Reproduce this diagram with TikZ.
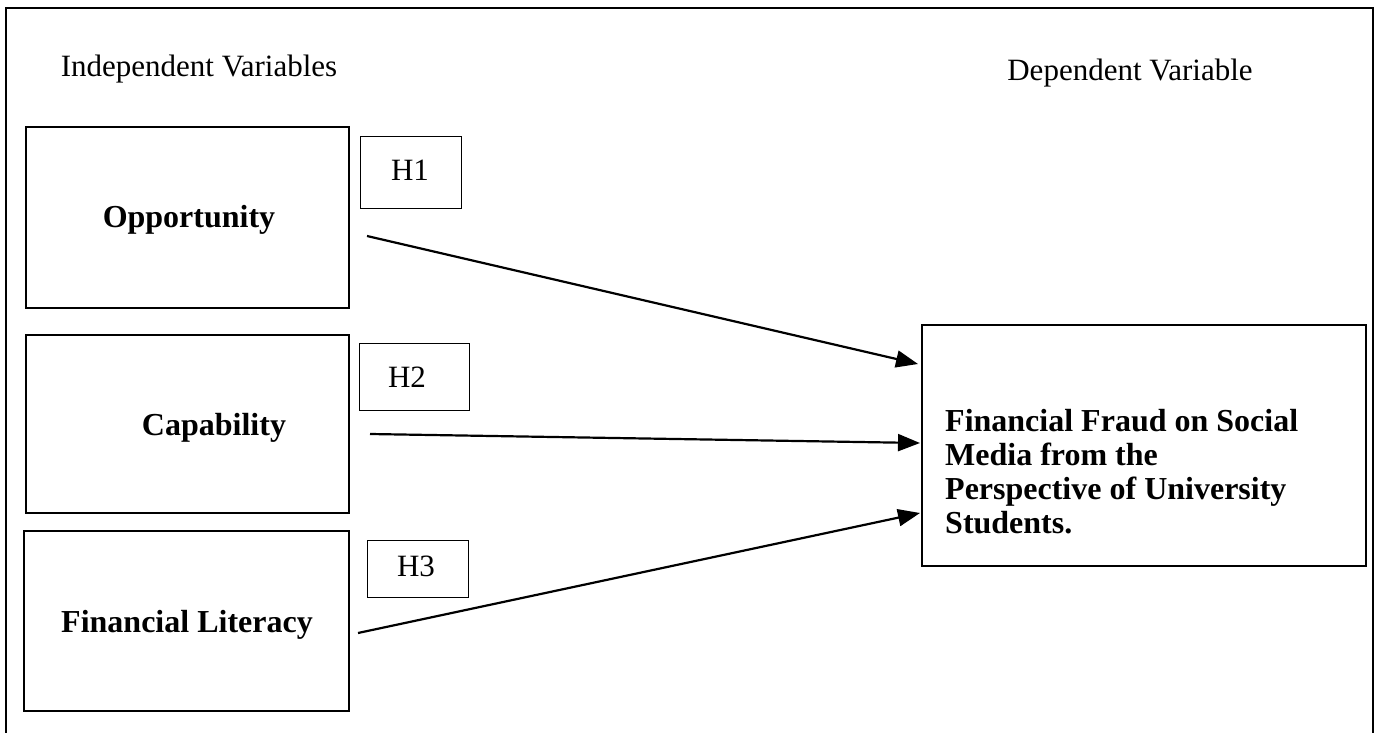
\documentclass[tikz,border=0pt]{standalone}
\usepackage{fontspec}
\setmainfont{Liberation Serif}
\usetikzlibrary{arrows.meta}
\begin{document}
\begin{tikzpicture}[x=1pt,y=-1pt]
	\useasboundingbox (0,0) rectangle (1381,733);
	
	\tikzstyle{varbox}=[rectangle,
	draw=black,
	line width=1.2pt,
	inner sep=0pt
	]
	\tikzstyle{hbox}=[rectangle,
	draw=black,
	line width=1pt,
	inner sep=0pt
	]
	\tikzstyle{vartext}=[font=\fontsize{32}{34}\selectfont\bfseries, inner sep=0pt]
	\tikzstyle{plaintext}=[font=\fontsize{31}{34}\selectfont, inner sep=0pt]
	\tikzstyle{myarrow}=[-{Triangle[length=22pt,width=17pt]}, line width=2.2pt]
	
	% outer frame
	\coordinate (f1) at (6,733);
	\coordinate (f2) at (6,8);
	\coordinate (f3) at (1373,8);
	\coordinate (f4) at (1373,733);
	\draw[line width=1.5pt] (f1) -- (f2) -- (f3) -- (f4);
	
	% headings
	\node[plaintext] (ivhead) at (199,69) {Independent Variables};
	\node[plaintext] (dvhead) at (1130,73) {Dependent Variable};
	
	% boxes
	\node[varbox, minimum width=323pt, minimum height=181pt] (opp) at (187.5,217.5) {};
	\node[varbox, minimum width=323pt, minimum height=178pt] (cap) at (187.5,424) {};
	\node[varbox, minimum width=325pt, minimum height=180pt] (lit) at (186.5,621) {};
	\node[varbox, minimum width=444pt, minimum height=241pt] (dv) at (1144,445.5) {};
	
	\node[vartext] (oppt) at (189,220) {Opportunity};
	\node[vartext] (capt) at (214,428) {Capability};
	\node[vartext] (litt) at (187,625) {Financial Literacy};
	\node[vartext, anchor=west, align=left] (dvt) at (945,472)
	{Financial Fraud on Social\\Media from the\\Perspective of University\\Students.};
	
	% hypotheses
	\node[hbox, minimum width=101pt, minimum height=71pt] (h1) at (410.5,172.5) {};
	\node[hbox, minimum width=110pt, minimum height=67pt] (h2) at (414,376.5) {};
	\node[hbox, minimum width=101pt, minimum height=57pt] (h3) at (417.5,568.5) {};
	\node[plaintext] (h1t) at (410,170) {H1};
	\node[plaintext] (h2t) at (407,377) {H2};
	\node[plaintext] (h3t) at (416,566) {H3};
	
	% arrows
	\coordinate (s1) at (367,236);
	\coordinate (s2) at (370,434);
	\coordinate (s3) at (358,633);
	\coordinate (e1) at (918,364);
	\coordinate (e2) at (920,443);
	\coordinate (e3) at (920,513);
	
	\draw[myarrow] (s1) -- (e1);
	\draw[myarrow] (s2) -- (e2);
	\draw[myarrow] (s3) -- (e3);
	
\end{tikzpicture}
\end{document}
